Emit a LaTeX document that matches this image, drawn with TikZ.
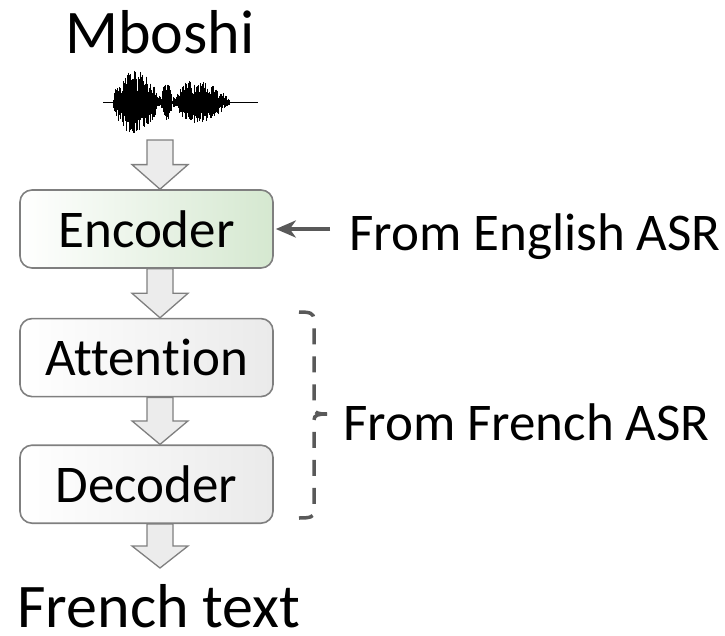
\documentclass[tikz,border=0pt]{standalone}
\usepackage{fontspec}
\setmainfont{Carlito}[Ligatures={NoCommon}]
\usepackage{tikz}
\usetikzlibrary{positioning,calc,arrows.meta}

\definecolor{boxline}{HTML}{7F7F7F}
\definecolor{encgreen}{HTML}{D5E8D0}
\definecolor{boxgray}{HTML}{EAEAEA}
\definecolor{flowfill}{HTML}{ECECEC}
\definecolor{darkline}{HTML}{595959}

\begin{document}
\begin{tikzpicture}[
    x=1pt, y=-1pt,
    every node/.style={font=\fontsize{53}{62}\selectfont},
    box/.style={draw=boxline, line width=1.6pt, rounded corners=12pt, align=center,
      minimum width=253pt, minimum height=78pt, inner sep=0pt,
      left color=white, right color=boxgray},
    bigtext/.style={font=\fontsize{62}{70}\selectfont, inner sep=0pt},
    flow/.style={draw=boxline, fill=flowfill, line width=1.3pt, line join=miter},
    sidearrow/.style={draw=darkline, line width=3.5pt, -{Stealth[length=20pt,width=17pt,inset=6pt]}},
    bracket/.style={draw=darkline, line width=3.5pt, dash pattern=on 16pt off 12pt},
    wave/.style={line width=0.45pt, black}
  ]
    \useasboundingbox (0,0) rectangle (725,635);

    % input side
    \node[bigtext, anchor=base] (mboshi) at (160,53) {Mboshi};
    \pgfmathsetseed{42}
    \draw[wave] (103,102) -- (258,102);
    \foreach \s/\e/\p/\k in {113/158/34/0.15, 158/161/6/0, 161/172/19/0, 172/176/5/0, 176/230/30/0.6}{
      \pgfmathsetmacro\sn{\s+0.5}
      \foreach \x in {\s,\sn,...,\e}{
        \pgfmathsetmacro\t{(\x-\s)/(\e-\s)}
        \pgfmathsetmacro\env{\p*sqrt(abs(sin(180*\t)))*(1-\k*\t)}
        \pgfmathsetmacro\a{\env*(0.3+0.7*rnd)}
        \pgfmathsetmacro\b{\env*(0.3+0.7*rnd)}
        \draw[wave] (\x,102-\a) -- (\x,102+\b);
      }
    }
    \coordinate (wave) at (160,140);

    % model blocks
    \node[box, right color=encgreen] (enc) at (146.5,229) {Encoder};
    \node[box, below=49pt of enc] (att) {Attention};
    \node[box, below=47pt of att] (dec) {Decoder};
    \coordinate (outtip) at (160,568);
    \node[bigtext, anchor=base] (french) at (159,627) {French text};

    % block arrows
    \foreach \a/\b in {wave/enc.north, enc.south/att.north, att.south/dec.north, dec.south/outtip}{
      \draw[flow] let \p1=(\a), \p2=(\b), \n1={(\y1+\y2)/2} in
        (147pt,\y1) -- (173pt,\y1) -- (173pt,\n1) -- (188pt,\n1) -- (160pt,\y2)
        -- (132pt,\n1) -- (147pt,\n1) -- cycle;
    }

    % pretrained parts
    \node[anchor=base west, inner sep=0pt] (english) at (349,250) {From English ASR};
    \draw[sidearrow] ([xshift=-19pt]english.west |- enc.east) -- ([xshift=2pt]enc.east);

    \node[anchor=base west, inner sep=0pt] (frasr) at (343,440) {From French ASR};
    \draw[bracket] (299,312) .. controls (310,312) and (314,313) .. (314,320) -- (314,408)
      .. controls (314,413) and (318,414) .. (327,414);
    \draw[bracket] (327,414) .. controls (318,414) and (314,415) .. (314,420) -- (314,512)
      .. controls (314,517) and (310,518) .. (299,518);
  \end{tikzpicture}
\end{document}
